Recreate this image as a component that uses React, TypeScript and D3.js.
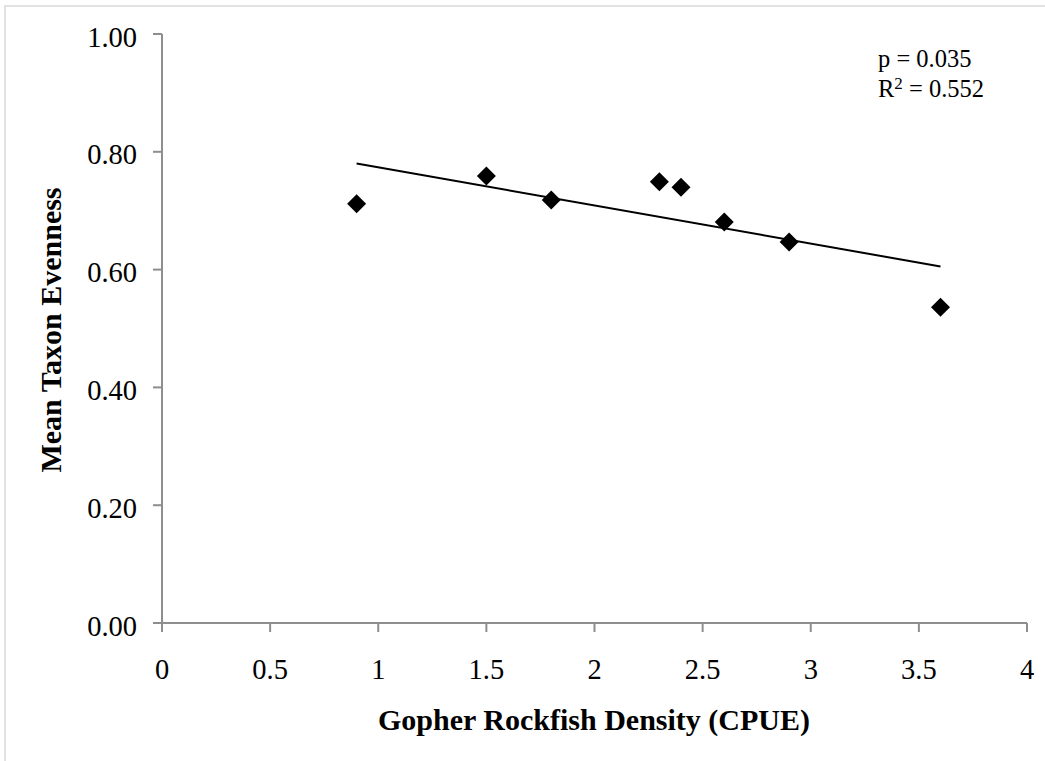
import React from "react";
import * as d3 from "d3";

const densityCPUE: number[] = [0.9, 1.5, 1.8, 2.3, 2.4, 2.6, 2.9, 3.6];
const taxonEvenness: number[] = [0.712, 0.759, 0.718, 0.749, 0.740, 0.681, 0.647, 0.536];
const xTicks: number[] = [0, 0.5, 1, 1.5, 2, 2.5, 3, 3.5, 4];
const yTicks: number[] = [0, 0.2, 0.4, 0.6, 0.8, 1.0];
const statLines: string[] = ["p = 0.035", "R2 = 0.552"];

const W = 1045;
const H = 761;
const M = { left: 162, right: 1027, top: 34, bottom: 623 };
const FONT = "'Liberation Serif', 'Times New Roman', serif";
const AXIS = "#8e8e8e";

export default function App() {
  const x = d3.scaleLinear().domain([0, 4]).range([M.left, M.right]);
  const y = d3.scaleLinear().domain([0, 1]).range([M.bottom, M.top]);

  // least squares trendline from data
  const mx = d3.mean(densityCPUE) as number;
  const my = d3.mean(taxonEvenness) as number;
  let sxy = 0, sxx = 0;
  densityCPUE.forEach((v, i) => {
    sxy += (v - mx) * (taxonEvenness[i] - my);
    sxx += (v - mx) * (v - mx);
  });
  const slope = sxy / sxx;
  const icpt = my - slope * mx;
  const x0 = d3.min(densityCPUE) as number;
  const x1 = d3.max(densityCPUE) as number;
  const trend: [number, number][] = [
    [x0, icpt + slope * x0],
    [x1, icpt + slope * x1],
  ];
  const line = d3.line<[number, number]>().x((d) => x(d[0])).y((d) => y(d[1]));
  const diamond = d3.symbol().type(d3.symbolDiamond2).size(230);

  return (
    <svg width={W} height={H} style={{ position: "absolute", left: 0, top: 0, background: "#fff" }}>
      <rect x={5} y={6} width={W + 10} height={H + 10} fill="#fff" stroke="#d9d9d9" strokeWidth={1.5} />
      {/* axes */}
      <line x1={M.left} x2={M.left} y1={M.top} y2={M.bottom} stroke={AXIS} strokeWidth={2} />
      <line x1={M.left} x2={M.right} y1={M.bottom} y2={M.bottom} stroke={AXIS} strokeWidth={2} />
      {yTicks.map((t) => (
        <g key={"y" + t}>
          <line x1={M.left - 9} x2={M.left} y1={y(t)} y2={y(t)} stroke={AXIS} strokeWidth={2} />
          <text x={137} y={y(t) + 12.5} textAnchor="end" fontFamily={FONT} fontSize={28.5} fill="#000">
            {t.toFixed(2)}
          </text>
        </g>
      ))}
      {xTicks.map((t) => (
        <g key={"x" + t}>
          <line x1={x(t)} x2={x(t)} y1={M.bottom} y2={M.bottom + 9} stroke={AXIS} strokeWidth={2} />
          <text x={x(t)} y={679} textAnchor="middle" fontFamily={FONT} fontSize={28.5} fill="#000">
            {String(t)}
          </text>
        </g>
      ))}
      <text
        x={594}
        y={730}
        textAnchor="middle"
        fontFamily={FONT}
        fontSize={30}
        fontWeight="bold"
        fill="#000"
      >
        Gopher Rockfish Density (CPUE)
      </text>
      <text
        transform={`translate(61, 330) rotate(-90)`}
        textAnchor="middle"
        fontFamily={FONT}
        fontSize={30}
        fontWeight="bold"
        fill="#000"
      >
        Mean Taxon Evenness
      </text>
      {/* trendline */}
      <path d={line(trend) || ""} fill="none" stroke="#000" strokeWidth={2} />
      {/* points */}
      {densityCPUE.map((v, i) => (
        <path
          key={"p" + i}
          d={diamond() || ""}
          transform={`translate(${x(v)}, ${y(taxonEvenness[i])})`}
          fill="#000"
        />
      ))}
      {/* stats */}
      <text x={878} y={67} fontFamily={FONT} fontSize={24.5} fill="#000">
        {statLines[0]}
      </text>
      <text x={878} y={97} fontFamily={FONT} fontSize={24.5} fill="#000">
        R<tspan dy={-8} fontSize={17}>2</tspan>
        <tspan dy={8}>{statLines[1].slice(2)}</tspan>
      </text>
    </svg>
  );
}
